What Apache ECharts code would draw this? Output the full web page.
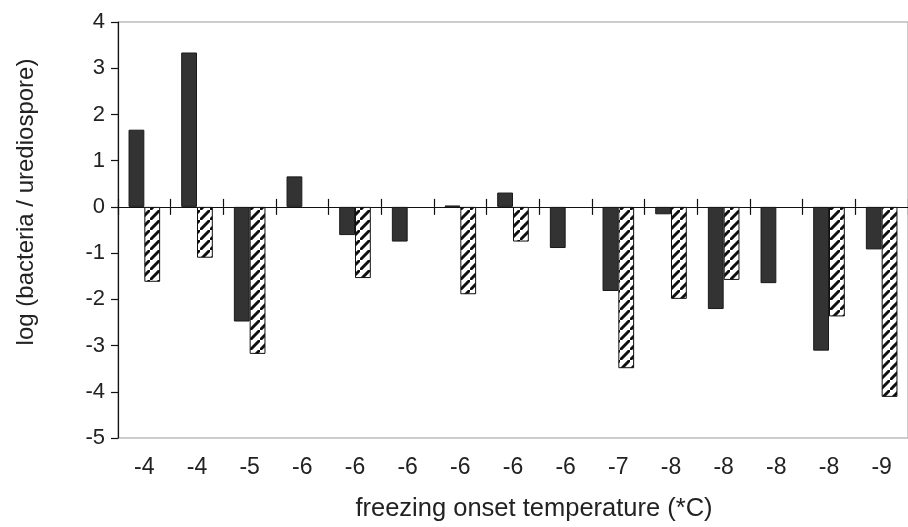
<!DOCTYPE html>
<html>
<head>
<meta charset="utf-8">
<script src="https://cdn.jsdelivr.net/npm/echarts@6/dist/echarts.min.js"></script>
<style>
html,body{margin:0;padding:0;background:#fff;}
#chart{width:908px;height:527px;}
</style>
</head>
<body>
<div id="chart"></div>
<script>
// ---- data ----
var categories = ['-4','-4','-5','-6','-6','-6','-6','-6','-6','-7','-8','-8','-8','-8','-9'];
var solidValues = [1.67, 3.34, -2.48, 0.66, -0.61, -0.75, 0.03, 0.31, -0.89, -1.82, -0.16, -2.21, -1.65, -3.11, -0.92];
var hatchedValues = [-1.62, -1.10, -3.18, null, -1.54, null, -1.89, -0.75, null, -3.49, -1.99, -1.58, null, -2.37, -4.11];
var yTicks = [-5, 4, 1]; // min, max, interval

// hatch pattern
var P = 10;
var pc = document.createElement('canvas');
pc.width = P; pc.height = P;
var ctx = pc.getContext('2d');
ctx.fillStyle = '#ffffff';
ctx.fillRect(0, 0, P, P);
ctx.strokeStyle = '#111111';
ctx.lineWidth = 3;
ctx.beginPath();
ctx.moveTo(-2, P + 2); ctx.lineTo(P + 2, -2);
ctx.moveTo(-P - 2, 2); ctx.lineTo(2, -P - 2);
ctx.moveTo(P - 2, 2 * P + 2); ctx.lineTo(2 * P + 2, P - 2);
ctx.stroke();

var font = 'Liberation Sans, Arial, sans-serif';
var chart = echarts.init(document.getElementById('chart'), null, {renderer: 'canvas'});
var G = {left: 118, top: 22, width: 801, height: 416};
// split point of the plot at value 0 (for the zero line with crossing ticks)
var zeroFrac = (yTicks[1] - 0) / (yTicks[1] - yTicks[0]);
var upperH = G.height * zeroFrac;

var zeroAxisCommon = {
  type: 'category', data: categories,
  axisLine: {show: true, onZero: false, lineStyle: {color: '#111', width: 1.2}},
  axisTick: {show: true, length: 8, lineStyle: {color: '#111', width: 1.2}},
  axisLabel: {show: false}, splitLine: {show: false}
};
var hiddenY = {type: 'value', show: false, splitLine: {show: false}};

chart.setOption({
  animation: false,
  backgroundColor: '#ffffff',
  grid: [
    {left: G.left, top: G.top, width: G.width, height: G.height, show: true, borderColor: '#9a9a9a', borderWidth: 1, backgroundColor: 'transparent'},
    {left: G.left, top: G.top, width: G.width, height: upperH, show: false},
    {left: G.left, top: G.top + upperH, width: G.width, height: G.height - upperH, show: false}
  ],
  xAxis: [
    {
      type: 'category', gridIndex: 0, data: categories, position: 'bottom',
      axisLine: {show: false, onZero: false},
      axisTick: {show: false},
      axisLabel: {fontFamily: font, fontSize: 23, color: '#222', margin: 18},
      name: 'freezing onset temperature (*C)',
      nameLocation: 'middle', nameGap: 58,
      nameTextStyle: {fontFamily: font, fontSize: 25.5, color: '#222', padding: [0, 0, 0, 42]}
    },
    Object.assign({gridIndex: 1, position: 'bottom'}, zeroAxisCommon),
    Object.assign({gridIndex: 2, position: 'top'}, zeroAxisCommon)
  ],
  yAxis: [
    {
      type: 'value', gridIndex: 0, min: yTicks[0], max: yTicks[1], interval: yTicks[2],
      axisLine: {show: true, lineStyle: {color: '#111', width: 1.2}},
      axisTick: {show: true, length: 7, lineStyle: {color: '#111', width: 1.2}},
      splitLine: {show: false},
      axisLabel: {fontFamily: font, fontSize: 22, color: '#222', margin: 13},
      name: 'log (bacteria / urediospore)',
      nameLocation: 'middle', nameGap: 80, nameRotate: 90,
      nameTextStyle: {fontFamily: font, fontSize: 24, color: '#222', padding: [0, 0, 0, 56]}
    },
    Object.assign({gridIndex: 1, min: 0, max: yTicks[1]}, hiddenY),
    Object.assign({gridIndex: 2, min: yTicks[0], max: 0}, hiddenY)
  ],
  series: [
    {
      type: 'bar', xAxisIndex: 0, yAxisIndex: 0, data: solidValues,
      barGap: '0%', barCategoryGap: '40%',
      itemStyle: {color: '#333333', borderColor: '#1a1a1a', borderWidth: 1}
    },
    {
      type: 'bar', xAxisIndex: 0, yAxisIndex: 0, data: hatchedValues,
      barGap: '0%', barCategoryGap: '40%',
      itemStyle: {color: {image: pc, repeat: 'repeat'}, borderColor: '#111', borderWidth: 1}
    }
  ]
});
</script>
</body>
</html>
